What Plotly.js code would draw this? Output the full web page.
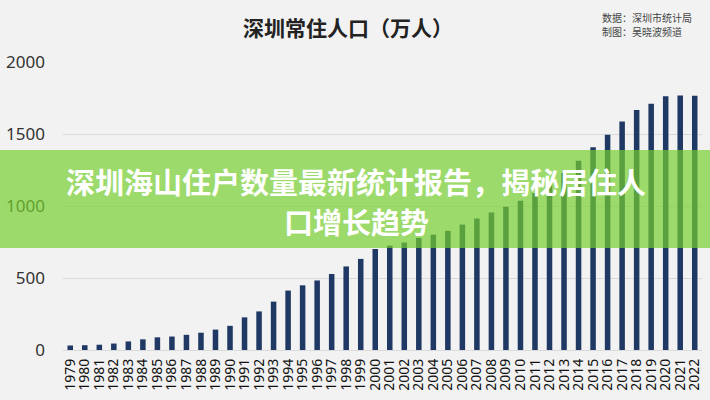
<!DOCTYPE html>
<html>
<head>
<meta charset="utf-8">
<script src="https://cdn.plot.ly/plotly-3.0.1.min.js"></script>
<style>
html,body{margin:0;padding:0;background:#f2f2f2;}
#chart{width:710px;height:400px;}
</style>
</head>
<body>
<div id="chart"></div>
<script>
// Data: Shenzhen resident population (10k persons)
const years = ["1979","1980","1981","1982","1983","1984","1985","1986","1987","1988",
  "1989","1990","1991","1992","1993","1994","1995","1996","1997","1998",
  "1999","2000","2001","2002","2003","2004","2005","2006","2007","2008",
  "2009","2010","2011","2012","2013","2014","2015","2016","2017","2018",
  "2019","2020","2021","2022"];
const population = [31.41,33.29,36.69,44.95,59.52,74.13,88.15,93.56,105.44,120.14,
  141.60,167.78,226.76,268.02,335.97,412.71,449.15,482.89,527.75,580.33,
  632.56,701.24,724.57,746.62,778.27,800.80,827.75,871.10,912.37,954.28,
  995.01,1037.20,1090,1160,1230,1315,1408,1495,1587,1666,
  1710,1763,1768,1766];
const yTicks = [0,500,1000,1500,2000];

const chartTitle = "深圳常住人口（万人）";
const sourceLines = ["数据：深圳市统计局","制图：吴晓波频道"];
const bannerLines = ["深圳海山住户数量最新统计报告，揭秘居住人","口增长趋势"];

const H = 400, T = 62, B = 50, PH = H - T - B, L = 63, R = 8, PW = 710 - L - R;
function py(pix){ return (H - B - pix) / PH; } // pixel y -> paper y
function px(pix){ return (pix - L) / PW; }     // pixel x -> paper x

const trace = {
  type: "bar",
  x: years,
  y: population,
  marker: {color: "#1f3864"},
  hoverinfo: "x+y"
};

const layout = {
  width: 710, height: 400,
  margin: {l: L, r: R, t: T, b: B},
  paper_bgcolor: "#f2f2f2",
  plot_bgcolor: "#f2f2f2",
  bargap: 0.62,
  showlegend: false,
  font: {family: "Noto Sans, Noto Sans CJK SC, sans-serif", color: "#333"},
  xaxis: {
    type: "category",
    tickmode: "array",
    tickvals: years,
    ticktext: years,
    tickangle: -90,
    tickfont: {size: 14, color: "#111", family: "Noto Sans, sans-serif"},
    showgrid: false, zeroline: false, showline: false,
    ticks: "", ticklabelstandoff: 5
  },
  yaxis: {
    range: [0, 2000],
    tickvals: yTicks,
    ticktext: yTicks.map(String),
    tickfont: {size: 17, color: "#333", family: "Noto Sans, sans-serif"},
    showgrid: true, gridcolor: "#dadada", gridwidth: 1,
    zeroline: true, zerolinecolor: "#dadada", zerolinewidth: 1,
    showline: false, ticks: "", ticklabelstandoff: 17
  },
  shapes: [{
    type: "rect", xref: "paper", yref: "paper", layer: "above",
    x0: px(0), x1: px(710), y0: py(248), y1: py(150),
    fillcolor: "rgba(117,207,46,0.69)", line: {width: 0}
  }],
  annotations: [
    {
      text: "<b>" + chartTitle + "</b>",
      xref: "paper", yref: "paper", x: px(348), y: py(27),
      xanchor: "center", yanchor: "middle", showarrow: false,
      font: {size: 21, color: "#222", family: "Noto Sans CJK SC, sans-serif"}
    },
    {
      text: sourceLines[0],
      xref: "paper", yref: "paper", x: px(600), y: py(17),
      xanchor: "left", yanchor: "middle", align: "left", showarrow: false,
      font: {size: 10, color: "#444", family: "Noto Sans CJK SC, sans-serif"}
    },
    {
      text: sourceLines[1],
      xref: "paper", yref: "paper", x: px(600), y: py(31),
      xanchor: "left", yanchor: "middle", align: "left", showarrow: false,
      font: {size: 10, color: "#444", family: "Noto Sans CJK SC, sans-serif"}
    },
    {
      text: "<b>" + bannerLines[0] + "</b>",
      xref: "paper", yref: "paper", x: px(356), y: py(181),
      xanchor: "center", yanchor: "middle", showarrow: false,
      font: {size: 29, color: "#ffffff", family: "Noto Sans CJK SC, sans-serif"}
    },
    {
      text: "<b>" + bannerLines[1] + "</b>",
      xref: "paper", yref: "paper", x: px(356), y: py(221),
      xanchor: "center", yanchor: "middle", showarrow: false,
      font: {size: 29, color: "#ffffff", family: "Noto Sans CJK SC, sans-serif"}
    }
  ]
};

Plotly.newPlot("chart", [trace], layout, {displayModeBar: false, staticPlot: true});
</script>
</body>
</html>
